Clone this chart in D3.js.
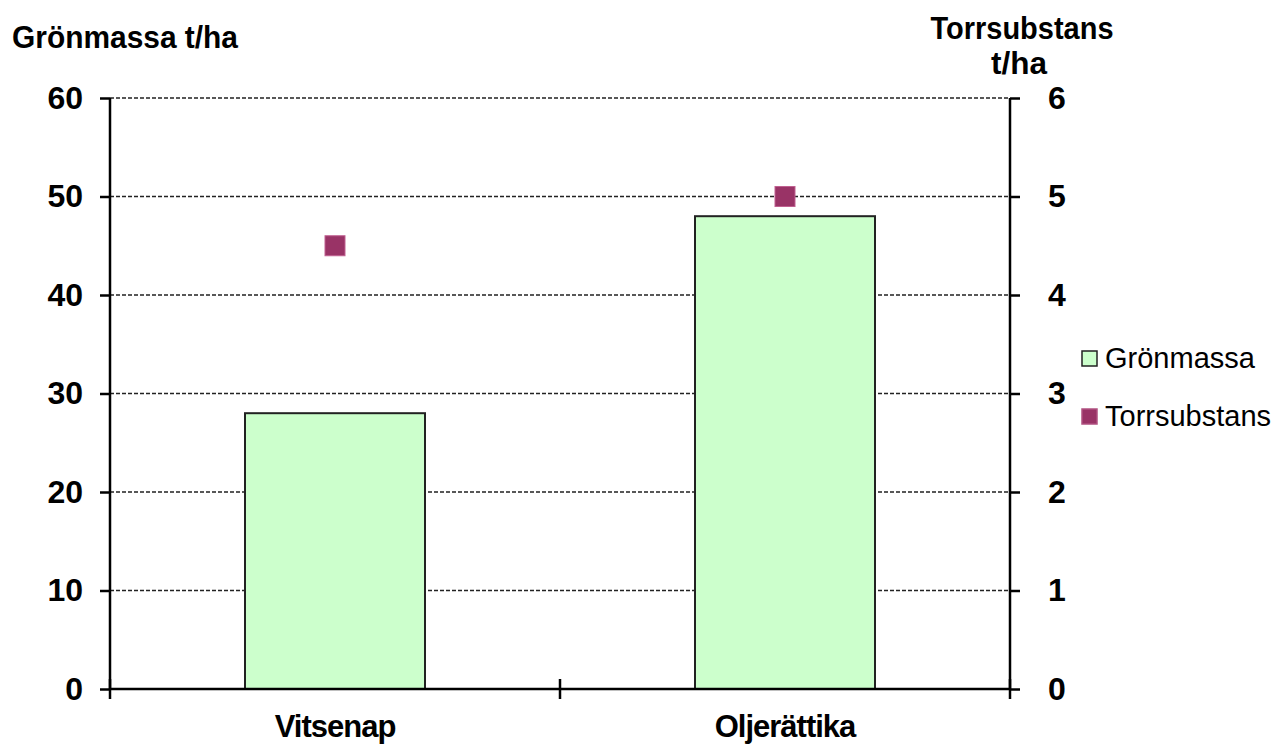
<!DOCTYPE html>
<html>
<head>
<meta charset="utf-8">
<script src="https://cdn.jsdelivr.net/npm/d3@7"></script>
<style>
  html, body { margin: 0; padding: 0; background: #fff; }
  svg { display: block; font-family: "Liberation Sans", Arial, sans-serif; }
</style>
</head>
<body>
<svg id="chart" width="1275" height="745"></svg>
<script>
// Yield per crop: green mass (left axis, t/ha) and dry matter (right axis, t/ha)
const categories = ["Vitsenap", "Oljerättika"];
const gronmassa = [28, 48];
const torrsubstans = [4.5, 5.0];
const leftTicks = [0, 10, 20, 30, 40, 50, 60];
const rightTicks = [0, 1, 2, 3, 4, 5, 6];

const svg = d3.select("#chart");
const plot = { left: 110, right: 1010, top: 98, bottom: 689 };

const x = d3.scaleBand().domain(categories).range([plot.left, plot.right]);
const yL = d3.scaleLinear().domain([0, 60]).range([plot.bottom, plot.top]);
const yR = d3.scaleLinear().domain([0, 6]).range([plot.bottom, plot.top]);
const barW = x.bandwidth() * 0.4;

// dashed horizontal gridlines
svg.append("g").selectAll("line").data(leftTicks.filter(d => d > 0)).join("line")
  .attr("x1", plot.left).attr("x2", plot.right)
  .attr("y1", d => yL(d)).attr("y2", d => yL(d))
  .attr("stroke", "#222").attr("stroke-width", 1.6)
  .attr("stroke-dasharray", "4,2");

// Grönmassa bars
svg.append("g").selectAll("rect").data(gronmassa).join("rect")
  .attr("x", (d, i) => x(categories[i]) + (x.bandwidth() - barW) / 2)
  .attr("y", d => yL(d))
  .attr("width", barW)
  .attr("height", d => yL(0) - yL(d))
  .attr("fill", "#CCFFCC")
  .attr("stroke", "#222").attr("stroke-width", 2);

// Torrsubstans markers
const ms = 20;
svg.append("g").selectAll("rect").data(torrsubstans).join("rect")
  .attr("x", (d, i) => x(categories[i]) + x.bandwidth() / 2 - ms / 2)
  .attr("y", d => yR(d) - ms / 2)
  .attr("width", ms).attr("height", ms)
  .attr("fill", "#993366")
  .attr("stroke", "#c06090").attr("stroke-width", 1);

// left axis
const axL = svg.append("g").attr("transform", `translate(${plot.left},0)`)
  .call(d3.axisLeft(yL).tickValues(leftTicks).tickSize(10).tickPadding(17));
// right axis
const axR = svg.append("g").attr("transform", `translate(${plot.right},0)`)
  .call(d3.axisRight(yR).tickValues(rightTicks).tickFormat(d3.format("d"))
    .tickSize(10).tickPadding(28));
// category axis with ticks between categories
const axB = svg.append("g").attr("transform", `translate(0,${plot.bottom})`)
  .call(d3.axisBottom(x).tickSize(0).tickPadding(26));

[axL, axR, axB].forEach(g => {
  g.select(".domain").attr("stroke", "#000").attr("stroke-width", 2.5);
  g.selectAll(".tick line").attr("stroke", "#000").attr("stroke-width", 2.5);
  g.selectAll("text").attr("fill", "#000").attr("font-weight", "bold")
    .attr("font-size", 32).style("font-family", "'Liberation Sans', Arial, sans-serif");
});
axL.select(".domain").attr("d", `M0,${plot.top}V${plot.bottom}`);
axR.select(".domain").attr("d", `M0,${plot.top}V${plot.bottom}`);
axB.select(".domain").attr("d", `M${plot.left},0H${plot.right}`);
axB.selectAll("text").attr("dy", "0.71em").attr("font-size", 31).attr("letter-spacing", -1);

// category boundary ticks crossing the baseline
const bounds = [plot.left, x(categories[1]), plot.right];
svg.append("g").selectAll("line").data(bounds).join("line")
  .attr("x1", d => d).attr("x2", d => d)
  .attr("y1", plot.bottom - 10).attr("y2", plot.bottom + 10)
  .attr("stroke", "#000").attr("stroke-width", 2.5);

// axis titles
const title = (txt, xPos, yPos, anchor, len) => svg.append("text")
  .attr("x", xPos).attr("y", yPos).attr("text-anchor", anchor)
  .attr("font-weight", "bold").attr("font-size", 31)
  .attr("textLength", len).attr("lengthAdjust", "spacingAndGlyphs")
  .text(txt);
title("Grönmassa t/ha", 12, 48, "start", 226);
title("Torrsubstans", 1022, 39, "middle", 183);
title("t/ha", 1019, 74, "middle", 56);

// legend
const legendItems = [
  { label: "Grönmassa", fill: "#CCFFCC", stroke: "#222" },
  { label: "Torrsubstans", fill: "#993366", stroke: "#b05080" }
];
const lg = svg.append("g").selectAll("g").data(legendItems).join("g")
  .attr("transform", (d, i) => `translate(1082,${351 + i * 58})`);
lg.append("rect").attr("width", 15).attr("height", 15)
  .attr("fill", d => d.fill).attr("stroke", d => d.stroke).attr("stroke-width", 1.5);
lg.append("text").attr("x", 23).attr("y", 17)
  .attr("font-size", 29).attr("fill", "#000")
  .text(d => d.label);
</script>
</body>
</html>
